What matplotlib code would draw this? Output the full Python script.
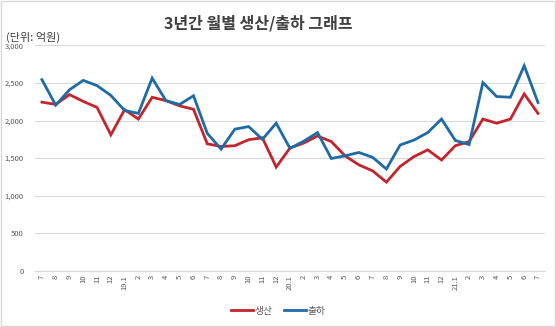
import matplotlib.pyplot as plt
import numpy as np
from matplotlib.patches import Rectangle

plt.rcParams['font.family'] = ['Noto Sans CJK KR', 'DejaVu Sans']

months = ['7', '8', '9', '10', '11', '12',
          '19.1', '2', '3', '4', '5', '6', '7', '8', '9', '10', '11', '12',
          '20.1', '2', '3', '4', '5', '6', '7', '8', '9', '10', '11', '12',
          '21.1', '2', '3', '4', '5', '6', '7']

# 생산 (production)
production = [2245, 2215, 2345, 2255, 2175, 1810, 2145, 2020, 2310, 2265, 2195, 2150,
              1690, 1655, 1665, 1745, 1770, 1380, 1635, 1700, 1795, 1720, 1530, 1410,
              1330, 1180, 1390, 1520, 1610, 1475, 1665, 1720, 2020, 1965, 2020, 2355, 2095]
# 출하 (shipment)
shipment = [2545, 2205, 2410, 2535, 2465, 2335, 2135, 2095, 2565, 2265, 2215, 2330,
            1830, 1620, 1885, 1920, 1750, 1965, 1630, 1725, 1840, 1495, 1530, 1575,
            1510, 1355, 1675, 1740, 1840, 2020, 1735, 1680, 2505, 2320, 2310, 2730, 2240]

red = '#C4252C'
blue = '#1F6BA6'

fig = plt.figure(figsize=(5.56, 3.27), dpi=100)
fig.patches.append(Rectangle((0.002, 0.003), 0.996, 0.994, transform=fig.transFigure,
                             fill=False, edgecolor='#D9D9D9', linewidth=1))
ax = fig.add_axes([0.063, 0.172, 0.917, 0.689])

x = np.arange(len(months))
ax.plot(x, production, color=red, linewidth=2, label='생산', solid_joinstyle='miter')
ax.plot(x, shipment, color=blue, linewidth=2, label='출하', solid_joinstyle='miter')

ax.set_xlim(-0.5, len(months) - 0.5)
ax.set_ylim(0, 3000)
ax.set_yticks(range(0, 3001, 500))
ax.set_yticklabels([f'{v:,}' for v in range(0, 3001, 500)])
ax.set_xticks(x)
ax.set_xticklabels(months, rotation=90)
ax.tick_params(axis='both', length=0, labelsize=5.5, labelcolor='#595959')
ax.tick_params(axis='y', pad=8)
ax.tick_params(axis='x', pad=3)
ax.grid(axis='y', color='#D9D9D9', linewidth=0.8)
ax.set_axisbelow(True)
for s in ['top', 'right', 'left']:
    ax.spines[s].set_visible(False)
ax.spines['bottom'].set_color('#D9D9D9')

fig.text(0.465, 0.93, '3년간 월별 생산/출하 그래프', ha='center', va='center',
         fontsize=11.5, fontweight='bold', color='#404040')
fig.text(0.01, 0.885, '(단위: 억원)', ha='left', va='center', fontsize=8, color='#404040')

fig.legend(loc='center', bbox_to_anchor=(0.5, 0.05), ncol=2, frameon=False,
           fontsize=7, handlelength=2.3, handletextpad=0.1, columnspacing=1.2,
           labelcolor='#595959')

fig.savefig('out.png', dpi=100)
